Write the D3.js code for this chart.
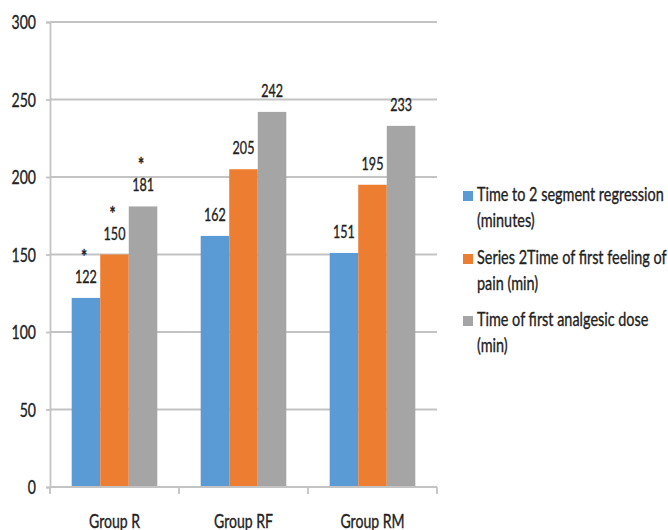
<!DOCTYPE html>
<html>
<head>
<meta charset="utf-8">
<script src="https://cdn.jsdelivr.net/npm/d3@7"></script>
<style>
  html, body { margin: 0; padding: 0; background: #fff; }
  svg text { font-family: Lato, "Open Sans", sans-serif; fill: #222; stroke: #222; stroke-width: 0.35px; }
</style>
</head>
<body>
<svg id="chart" width="668" height="530"></svg>
<script>
// Groups along the x axis
const groups = ["Group R", "Group RF", "Group RM"];

// Series names (legend text, already wrapped into lines)
const seriesNames = [
  ["Time to 2 segment regression", "(minutes)"],
  ["Series 2Time of first feeling of", "pain (min)"],
  ["Time of first analgesic dose", "(min)"]
];

// Values per series, one per group
const regression = [122, 162, 151];
const firstPain = [150, 205, 195];
const firstAnalgesic = [181, 242, 233];

// Significance markers (*) per series, one per group
const regressionStar = [true, false, false];
const firstPainStar = [true, false, false];
const firstAnalgesicStar = [true, false, false];

// Y axis tick values
const yTicks = [0, 50, 100, 150, 200, 250, 300];

const seriesValues = [regression, firstPain, firstAnalgesic];
const seriesStars = [regressionStar, firstPainStar, firstAnalgesicStar];
const colors = ["#5B9BD5", "#ED7D31", "#A5A5A5"];

const svg = d3.select("#chart");
const plot = { left: 50, right: 437, top: 22, bottom: 487 };

// Condensed text: the humanist face is squeezed horizontally
const squeeze = 0.76;
function placeText(sel, x, y) {
  return sel.attr("transform", (d, i) => `translate(${x(d, i)},${y(d, i)}) scale(${squeeze},1)`);
}

const y = d3.scaleLinear().domain([0, 300]).range([plot.bottom, plot.top]);
const x0 = d3.scaleBand().domain(groups).range([plot.left, plot.right]).paddingInner(0).paddingOuter(0);
const x1 = d3.scaleBand().domain(d3.range(seriesValues.length)).range([0, x0.bandwidth()])
  .paddingInner(0).paddingOuter(0.76);

const gridColor = "#c3c3c3";

// Horizontal gridlines
svg.append("g").selectAll("line")
  .data(yTicks.filter(t => t > 0))
  .join("line")
  .attr("x1", plot.left).attr("x2", plot.right)
  .attr("y1", d => y(d)).attr("y2", d => y(d))
  .attr("stroke", gridColor).attr("stroke-width", 1.8);

// Left axis
const yAxis = svg.append("g")
  .attr("transform", `translate(${plot.left},0)`)
  .call(d3.axisLeft(y).tickValues(yTicks).tickSize(4).tickPadding(10));
yAxis.select(".domain").attr("stroke", gridColor).attr("stroke-width", 1.8);
yAxis.selectAll(".tick line").attr("stroke", gridColor).attr("stroke-width", 1.8);
yAxis.selectAll(".tick text")
  .attr("x", null).attr("dy", "0.36em")
  .attr("transform", `translate(-14,0) scale(${squeeze},1)`)
  .style("font-size", "18.5px").style("font-family", null).attr("fill", "#222");

// Bars
const bars = [];
seriesValues.forEach((vals, s) => {
  vals.forEach((v, g) => bars.push({ s, g, v, star: seriesStars[s][g] }));
});
const barCenter = d => x0(groups[d.g]) + x1(d.s) + x1.bandwidth() / 2;

svg.append("g").selectAll("rect")
  .data(bars)
  .join("rect")
  .attr("x", d => x0(groups[d.g]) + x1(d.s))
  .attr("width", x1.bandwidth())
  .attr("y", d => y(d.v))
  .attr("height", d => y(0) - y(d.v))
  .attr("fill", d => colors[d.s]);

// Value labels
svg.append("g").selectAll("text")
  .data(bars)
  .join("text")
  .call(placeText, barCenter, d => y(d.v) - 15)
  .attr("text-anchor", "middle")
  .style("font-size", "16.5px")
  .text(d => d.v);

// Significance asterisks
svg.append("g").selectAll("text")
  .data(bars.filter(d => d.star))
  .join("text")
  .call(placeText, d => barCenter(d) - 2, d => y(d.v) - 35)
  .attr("text-anchor", "middle")
  .style("font-size", "19px")
  .style("font-weight", "bold")
  .text("*");

// Bottom axis
const xAxis = svg.append("g").attr("transform", `translate(0,${plot.bottom})`);
xAxis.append("line")
  .attr("x1", plot.left).attr("x2", plot.right)
  .attr("stroke", gridColor).attr("stroke-width", 1.8);
const boundaries = groups.map(g => x0(g)).concat([plot.right]);
xAxis.selectAll("line.tick")
  .data(boundaries)
  .join("line")
  .attr("class", "tick")
  .attr("x1", d => d).attr("x2", d => d)
  .attr("y1", 0).attr("y2", 7)
  .attr("stroke", gridColor).attr("stroke-width", 1.8);
xAxis.selectAll("text")
  .data(groups)
  .join("text")
  .call(placeText, d => x0(d) + x0.bandwidth() / 2, () => 41)
  .attr("text-anchor", "middle")
  .style("font-size", "18.5px")
  .text(d => d);

// Legend
const legend = svg.append("g").attr("transform", "translate(463,0)");
const itemTop = [201, 264, 326];
seriesNames.forEach((lines, i) => {
  const g = legend.append("g").attr("transform", `translate(0,${itemTop[i]})`);
  g.append("rect").attr("x", 0).attr("y", -10).attr("width", 10).attr("height", 10).attr("fill", colors[i]);
  g.selectAll("text")
    .data(lines)
    .join("text")
    .call(placeText, () => 14, (d, k) => k * 26)
    .style("font-size", "19px")
    .text(d => d);
});
</script>
</body>
</html>
